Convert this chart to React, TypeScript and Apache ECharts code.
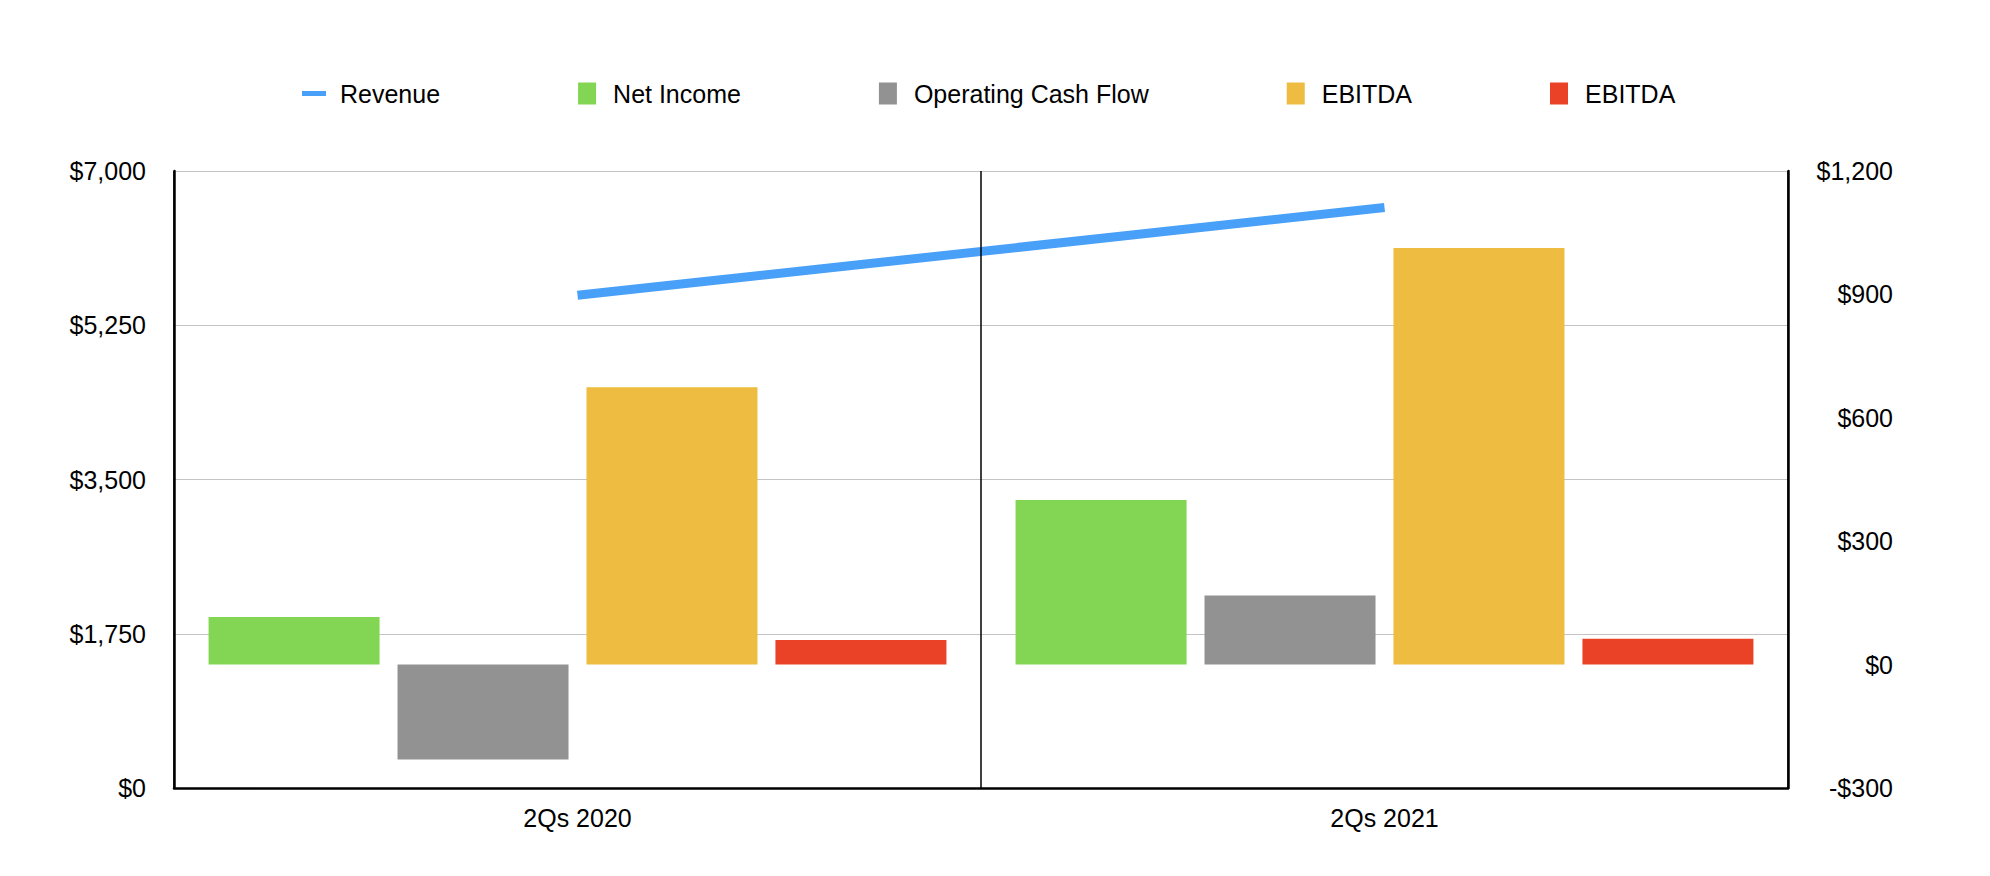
import React, { useEffect, useRef } from "react";
import * as echarts from "echarts";

const categories = ["2Qs 2020", "2Qs 2021"];
const revenue = [5590, 6585];
const netIncome = [116, 400];
const operatingCashFlow = [-231, 168];
const ebitdaYellow = [674, 1013];
const ebitdaRed = [60, 63];

const leftTicks = [0, 1750, 3500, 5250, 7000];
const rightTicks = [-300, 0, 300, 600, 900, 1200];

const money = (v: number) =>
  (v < 0 ? "-" : "") + "$" + Math.abs(v).toString().replace(/\B(?=(\d{3})+(?!\d))/g, ",");

const FONT = "'Liberation Sans', Arial, Helvetica, sans-serif";
const FS = 25;

export default function App() {
  const ref = useRef<HTMLDivElement>(null);
  useEffect(() => {
    if (!ref.current) return;
    const chart = echarts.init(ref.current, undefined, { renderer: "svg" });
    const barW = 171;
    const squareIcon = "path://M0,0h18v22h-18z";
    chart.setOption({
      animation: false,
      backgroundColor: "#ffffff",
      textStyle: { fontFamily: FONT, color: "#000" },
      legend: {
        left: 297,
        top: 76,
        itemWidth: 24,
        itemHeight: 22,
        itemGap: 138,
        textStyle: { fontFamily: FONT, fontSize: FS, color: "#000", padding: [0, 0, 0, 9] },
        formatter: (n: string) => (n === "EBITDA (2)" ? "EBITDA" : n),
        data: [
          { name: "Revenue", icon: "path://M0,0h24v5h-24z" },
          { name: "Net Income", icon: squareIcon },
          { name: "Operating Cash Flow", icon: squareIcon },
          { name: "EBITDA", icon: squareIcon },
          { name: "EBITDA (2)", icon: squareIcon },
        ],
      },
      grid: { left: 174, right: 202, top: 171, bottom: 88, containLabel: false },
      xAxis: {
        type: "category",
        data: categories,
        z: 3,
        axisLine: { show: true, lineStyle: { color: "#000", width: 2.5 } },
        axisTick: { show: false },
        splitLine: { show: true, lineStyle: { color: "#000", width: 1.5 } },
        axisLabel: { fontFamily: FONT, fontSize: FS, color: "#000", margin: 17 },
      },
      yAxis: [
        {
          type: "value",
          min: leftTicks[0],
          max: leftTicks[leftTicks.length - 1],
          interval: leftTicks[1] - leftTicks[0],
          position: "left",
          axisLine: { show: true, lineStyle: { color: "#000", width: 2.5 } },
          axisTick: { show: false },
          splitLine: { show: true, lineStyle: { color: "#c4c4c4", width: 1 } },
          axisLabel: { fontFamily: FONT, fontSize: FS, color: "#000", margin: 28, formatter: money },
        },
        {
          type: "value",
          min: rightTicks[0],
          max: rightTicks[rightTicks.length - 1],
          interval: rightTicks[1] - rightTicks[0],
          position: "right",
          axisLine: { show: true, lineStyle: { color: "#000", width: 2.5 } },
          axisTick: { show: false },
          splitLine: { show: false },
          axisLabel: {
            fontFamily: FONT,
            fontSize: FS,
            color: "#000",
            align: "right",
            margin: 105,
            formatter: money,
          },
        },
      ],
      series: [
        {
          name: "Revenue",
          type: "line",
          yAxisIndex: 0,
          data: revenue,
          symbol: "none",
          z: 1,
          color: "#48A0F8",
          lineStyle: { color: "#48A0F8", width: 9, cap: "butt" },
        },
        {
          name: "Net Income",
          type: "bar",
          yAxisIndex: 1,
          data: netIncome,
          barWidth: barW,
          barGap: "10.5%",
          itemStyle: { color: "#82D653" },
        },
        {
          name: "Operating Cash Flow",
          type: "bar",
          yAxisIndex: 1,
          data: operatingCashFlow,
          barWidth: barW,
          barGap: "10.5%",
          itemStyle: { color: "#929292" },
        },
        {
          name: "EBITDA",
          type: "bar",
          yAxisIndex: 1,
          data: ebitdaYellow,
          barWidth: barW,
          barGap: "10.5%",
          itemStyle: { color: "#EEBC40" },
        },
        {
          name: "EBITDA (2)",
          type: "bar",
          yAxisIndex: 1,
          data: ebitdaRed,
          barWidth: barW,
          barGap: "10.5%",
          itemStyle: { color: "#E94227" },
        },
      ],
    });
    return () => chart.dispose();
  }, []);
  return (
    <div
      ref={ref}
      style={{ position: "fixed", left: 0, top: 0, width: 1990, height: 876, background: "#fff" }}
    />
  );
}
